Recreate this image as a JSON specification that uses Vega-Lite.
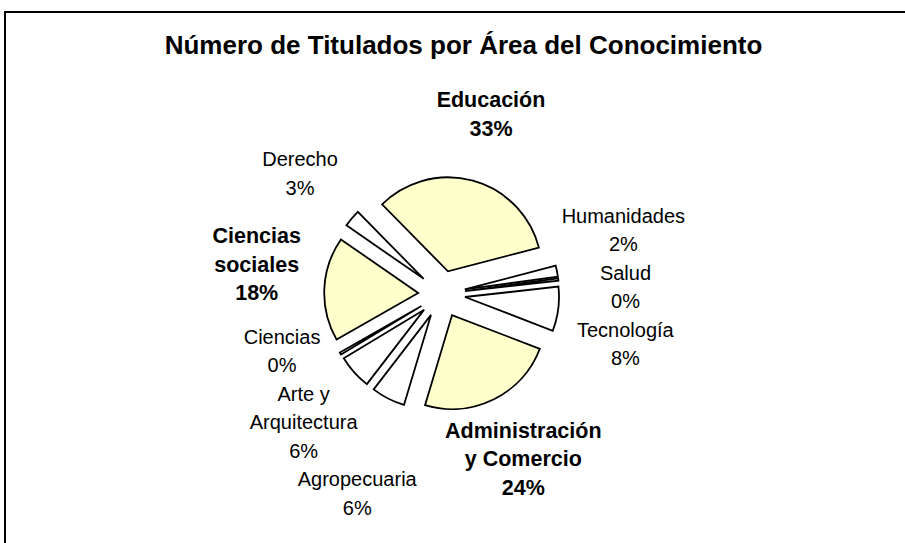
{
  "$schema": "https://vega.github.io/schema/vega-lite/v6.json",
  "width": 917,
  "height": 600,
  "autosize": {"type": "none"},
  "padding": {"left": 5, "top": 12, "right": -17, "bottom": -69},
  "background": "white",
  "config": {"view": {"stroke": "black", "strokeWidth": 2}},
  "title": {
    "text": "Número de Titulados por Área del Conocimiento",
    "font": "Liberation Sans",
    "fontSize": 26,
    "fontWeight": "bold",
    "color": "black",
    "anchor": "middle",
    "frame": "group",
    "baseline": "alphabetic",
    "offset": -68
  },
  "data": {
    "values": [
      {"name": "Educación", "value": 33.3},
      {"name": "Humanidades", "value": 1.9},
      {"name": "Salud", "value": 0.4},
      {"name": "Tecnología", "value": 7.6},
      {"name": "Administración y Comercio", "value": 23.8},
      {"name": "Agropecuaria", "value": 5.8},
      {"name": "Arte y Arquitectura", "value": 5.9},
      {"name": "Ciencias", "value": 0.4},
      {"name": "Ciencias sociales", "value": 17.9},
      {"name": "Derecho", "value": 3.0}
    ]
  },
  "transform": [
    {"joinaggregate": [{"op": "sum", "field": "value", "as": "total"}]},
    {"window": [{"op": "row_number", "as": "idx"}]},
    {"window": [{"op": "sum", "field": "value", "as": "cum"}], "sort": [{"field": "idx", "order": "ascending"}], "frame": [null, 0]},
    {"calculate": "-0.7767 + 2*PI*datum.cum/datum.total", "as": "t1"},
    {"calculate": "datum.t1 - 2*PI*datum.value/datum.total", "as": "t0"},
    {"calculate": "(datum.t0 + datum.t1)/2", "as": "mid"},
    {"calculate": "0.25*sin(datum.mid)", "as": "ex"},
    {"calculate": "0.25*cos(datum.mid)", "as": "ey"},
    {"calculate": "replace(datum.name, regexp('(.{1,14})( +|$)', 'g'), '$1|') + format(datum.value/datum.total, '.0%')", "as": "label"},
    {"calculate": "length(split(datum.label, '|'))", "as": "nl"},
    {"calculate": "datum.nl*28.5/94", "as": "h"},
    {"calculate": "1.97*sin(datum.mid)", "as": "lx"},
    {"calculate": "1.97*cos(datum.mid)", "as": "ly0"},
    {"calculate": "sin(datum.mid) >= 0 ? 'R' : 'L'", "as": "side"},
    {"window": [{"op": "sum", "field": "h", "as": "H1"}], "sort": [{"field": "ly0", "order": "ascending"}], "groupby": ["side"], "frame": [null, 0]},
    {"calculate": "datum.H1 - datum.h/2", "as": "s1"},
    {"calculate": "datum.ly0 - datum.s1", "as": "u1"},
    {"window": [{"op": "max", "field": "u1", "as": "m1"}], "sort": [{"field": "ly0", "order": "ascending"}], "groupby": ["side"], "frame": [null, 0]},
    {"calculate": "datum.m1 + datum.s1", "as": "fwd"},
    {"window": [{"op": "sum", "field": "h", "as": "H2"}], "sort": [{"field": "ly0", "order": "descending"}], "groupby": ["side"], "frame": [null, 0]},
    {"calculate": "datum.H2 - datum.h/2", "as": "s2"},
    {"calculate": "datum.ly0 + datum.s2", "as": "u2"},
    {"window": [{"op": "min", "field": "u2", "as": "m2"}], "sort": [{"field": "ly0", "order": "descending"}], "groupby": ["side"], "frame": [null, 0]},
    {"calculate": "datum.m2 - datum.s2", "as": "bwd"},
    {"calculate": "(datum.fwd + datum.bwd)/2 + (datum.nl - 1)/2*28.5/94", "as": "ly"}
  ],
  "layer": [
    {
      "mark": {"type": "arc", "radius": 94, "stroke": "black", "strokeWidth": 1.8, "strokeJoin": "miter"},
      "encoding": {
        "x": {"field": "ex", "type": "quantitative", "scale": {"domain": [-4.6457, 5.1096], "nice": false, "zero": false}, "axis": null},
        "y": {"field": "ey", "type": "quantitative", "scale": {"domain": [-3.383, 3.0], "nice": false, "zero": false}, "axis": null},
        "theta": {"field": "t0", "type": "quantitative", "scale": null, "stack": null},
        "theta2": {"field": "t1"},
        "fill": {"condition": {"test": "datum.value > 10", "value": "#FFFFCC"}, "value": "#FFFFFF"}
      }
    },
    {
      "transform": [{"filter": "datum.value <= 10"}],
      "mark": {"type": "text", "lineBreak": "|", "align": "center", "baseline": "middle", "font": "Liberation Sans", "fontSize": 20, "lineHeight": 28.5, "color": "black"},
      "encoding": {
        "x": {"field": "lx", "type": "quantitative"},
        "y": {"field": "ly", "type": "quantitative"},
        "text": {"field": "label"}
      }
    },
    {
      "transform": [{"filter": "datum.value > 10"}],
      "mark": {"type": "text", "lineBreak": "|", "align": "center", "baseline": "middle", "font": "Liberation Sans", "fontSize": 21.5, "fontWeight": "bold", "lineHeight": 28.5, "color": "black"},
      "encoding": {
        "x": {"field": "lx", "type": "quantitative"},
        "y": {"field": "ly", "type": "quantitative"},
        "text": {"field": "label"}
      }
    }
  ]
}
